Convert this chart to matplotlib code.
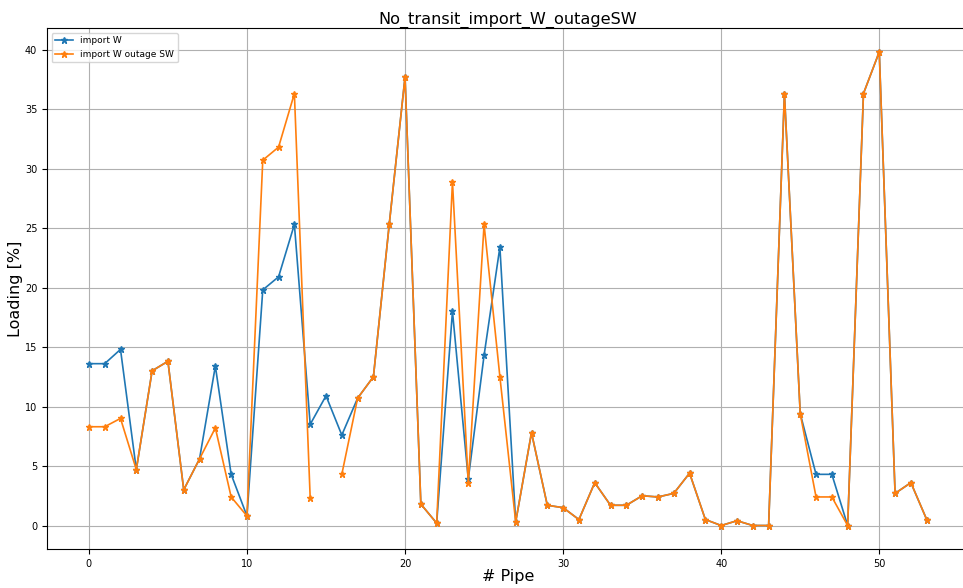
import numpy as np
import matplotlib
matplotlib.use("Agg")
import matplotlib.pyplot as plt

pipes = list(range(54))

# loading of each pipe, import W (base case)
import_w = [13.6, 13.6, 14.8, 4.7, 13.0, 13.8, 3.0, 5.6, 13.4, 4.3,
            0.8, 19.8, 20.9, 25.3, 8.5, 10.9, 7.6, 10.7, 12.5, 25.3,
            37.7, 1.8, 0.2, 18.0, 3.9, 14.3, 23.4, 0.3, 7.8, 1.7,
            1.5, 0.5, 3.6, 1.7, 1.7, 2.5, 2.4, 2.7, 4.4, 0.5,
            0.0, 0.4, 0.0, 0.0, 36.3, 9.4, 4.3, 4.3, 0.0, 36.3,
            39.8, 2.7, 3.6, 0.5]

# loading with SW outage (pipe 15 out of service)
import_w_outage = [8.3, 8.3, 9.0, 4.7, 13.0, 13.8, 3.0, 5.6, 8.2, 2.4,
                   0.8, 30.7, 31.8, 36.3, 2.3, np.nan, 4.3, 10.7, 12.5, 25.3,
                   37.7, 1.8, 0.2, 28.9, 3.6, 25.3, 12.5, 0.3, 7.8, 1.7,
                   1.5, 0.5, 3.6, 1.7, 1.7, 2.5, 2.4, 2.7, 4.4, 0.5,
                   0.0, 0.4, 0.0, 0.0, 36.3, 9.4, 2.4, 2.4, 0.0, 36.3,
                   39.8, 2.7, 3.6, 0.5]

fig = plt.figure(figsize=(9.63, 5.88), dpi=100)
ax = fig.add_axes([0.0488, 0.066, 0.957, 0.886])

ax.plot(pipes, import_w, marker='*', lw=1.2, ms=5, label='import W')
ax.plot(pipes, import_w_outage, marker='*', lw=1.2, ms=5, label='import W outage SW')

ax.grid(True)
ax.set_title('No_transit_import_W_outageSW', fontsize=11.6, pad=3)
ax.set_xlabel('# Pipe', fontsize=11.5, labelpad=0)
ax.set_ylabel('Loading [%]', fontsize=11.5, labelpad=1)
ax.tick_params(labelsize=7)
ax.legend(loc='upper left', fontsize=6.5)

fig.savefig('out.png', dpi=100)
